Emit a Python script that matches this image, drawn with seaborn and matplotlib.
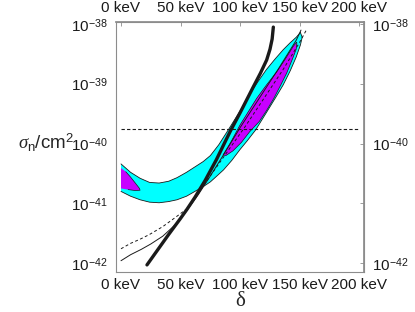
import numpy as np
import matplotlib
matplotlib.use("Agg")
import matplotlib.pyplot as plt
from matplotlib.ticker import NullLocator
import seaborn as sns

# delta in keV, cross sections stored as log10(sigma_n / cm^2)
cyan_upper_delta = [0, 8, 16, 24, 32, 40, 47, 55, 62, 69, 75, 82, 90, 100, 108, 115, 122, 129, 136, 142, 147, 150.5]
cyan_upper_log = [-40.34, -40.48, -40.58, -40.65, -40.66, -40.63, -40.57, -40.48, -40.39, -40.30, -40.20,
                  -40.02, -39.77, -39.45, -39.17, -38.96, -38.76, -38.59, -38.43, -38.31, -38.22, -38.14]
cyan_lower_delta = [0, 8, 16, 24, 32, 40, 47, 55, 62, 69, 75, 80, 86, 93, 99.8, 106, 113, 122, 130, 136,
                    142, 147, 150.5, 152, 150.5]
cyan_lower_log = [-40.80, -40.88, -40.94, -40.98, -40.99, -40.97, -40.94, -40.88, -40.80, -40.72, -40.64,
                  -40.55, -40.44, -40.28, -40.10, -39.95, -39.77, -39.48, -39.22, -39.02, -38.78, -38.55,
                  -38.35, -38.22, -38.14]

mag_left_delta = [0, 4, 8, 12, 15.5, 16, 12, 6, 0]
mag_left_log = [-40.41, -40.47, -40.56, -40.66, -40.75, -40.78, -40.785, -40.77, -40.75]

mag_right_delta = [85.6, 92, 99.8, 107, 113.9, 122, 130.6, 138, 144.6, 147.4, 147.5, 147, 143.5, 139, 134,
                   128, 122, 116, 108, 101, 94, 88, 85.6]
mag_right_log = [-40.19, -39.98, -39.69, -39.46, -39.24, -39.02, -38.80, -38.58, -38.37, -38.30, -38.32,
                 -38.42, -38.60, -38.82, -39.02, -39.25, -39.45, -39.63, -39.80, -39.98, -40.12, -40.20, -40.19]

thick_delta = [21.8, 30, 40, 50, 55, 62, 70.5, 80, 91.5, 100, 111, 117, 122.2, 125, 126.8, 127.8]
thick_log = [-42.03, -41.80, -41.52, -41.25, -41.11, -40.90, -40.62, -40.27, -39.80, -39.48, -39.05,
             -38.82, -38.60, -38.42, -38.25, -38.05]

thin_delta = [0, 8, 17, 25, 35, 46, 56, 65, 75, 85, 100, 116, 132, 147, 151]
thin_log = [-41.96, -41.86, -41.77, -41.68, -41.55, -41.35, -41.10, -40.85, -40.54, -40.22, -39.73,
            -39.24, -38.75, -38.27, -38.10]

dashed_delta = [0, 8, 16, 24, 35, 46, 56, 70, 88, 104, 120, 136, 150, 156]
dashed_log = [-41.76, -41.67, -41.60, -41.52, -41.39, -41.23, -41.08, -40.68, -40.17, -39.72, -39.24,
              -38.76, -38.30, -38.08]

limit_delta = [0, 200]
limit_log = [-39.76, -39.76]

x_ticks = [0, 50, 100, 150, 200]
x_labels = ["0 keV", "50 keV", "100 keV", "150 keV", "200 keV"]
y_exps = [-38, -39, -40, -41, -42]
right_exps = [-38, -40, -42]


def sig(vals):
    return np.power(10.0, np.array(vals))


sns.set_theme(style="white")
plt.rcParams["font.family"] = ["Liberation Sans", "DejaVu Sans"]
plt.rcParams["mathtext.fontset"] = "custom"
plt.rcParams["mathtext.rm"] = "Liberation Sans"
plt.rcParams["mathtext.it"] = "Liberation Serif:italic"

fig = plt.figure(figsize=(4.15, 3.12), dpi=100)
ax = fig.add_axes([0.2795, 0.128, 0.598, 0.801])
ax.set_yscale("log")

frame = "#8c8c8c"
cyan = "#00ffff"
magenta = "#c800ff"

# cyan region
ax.fill(cyan_upper_delta + cyan_lower_delta[::-1], sig(cyan_upper_log + cyan_lower_log[::-1]),
        color=cyan, lw=0, zorder=1)
ax.plot(cyan_upper_delta, sig(cyan_upper_log), color="k", lw=0.6, zorder=2)
ax.plot(cyan_lower_delta, sig(cyan_lower_log), color="k", lw=0.6, zorder=2)

# magenta regions
ax.fill(mag_left_delta, sig(mag_left_log), facecolor=magenta, edgecolor="none", zorder=3)
ax.plot(mag_left_delta[1:-1], sig(mag_left_log[1:-1]), color="k", lw=0.5, zorder=3)
ax.fill(mag_right_delta, sig(mag_right_log), facecolor=magenta, edgecolor="k", lw=0.5, zorder=3)

# curves
sns.lineplot(x=dashed_delta, y=sig(dashed_log), sort=False, estimator=None, color="k", lw=0.7,
             ax=ax, zorder=4).lines[-1].set_dashes([3, 2.5])
sns.lineplot(x=thin_delta, y=sig(thin_log), sort=False, estimator=None, color="k", lw=0.7,
             ax=ax, zorder=4)
sns.lineplot(x=thick_delta, y=sig(thick_log), sort=False, estimator=None, color="k", lw=2.4,
             ax=ax, zorder=5)
sns.lineplot(x=limit_delta, y=sig(limit_log), sort=False, estimator=None, color="k", lw=0.8,
             ax=ax, zorder=4).lines[-1].set_dashes([3, 2])

ax.set_xlim(-4.2, 204)
ax.set_ylim(10 ** -42.15, 10 ** -37.967)

for s in ax.spines.values():
    s.set_color(frame)
    s.set_linewidth(0.8)

tick_kw = dict(direction="in", length=3, width=0.6, color=frame, labelsize=11, labelcolor="k")
ax.set_xticks(x_ticks)
ax.set_xticklabels(x_labels)
ax.set_yticks(sig(y_exps))
ax.set_yticklabels([r"$10^{%d}$" % e for e in y_exps])
ax.yaxis.set_minor_locator(NullLocator())
ax.tick_params(axis="x", pad=4, **tick_kw)
ax.tick_params(axis="y", pad=6, **tick_kw)

top = ax.secondary_xaxis("top")
top.set_xticks(x_ticks)
top.set_xticklabels(x_labels)
top.tick_params(pad=5, **tick_kw)
top.spines["top"].set_color(frame)

right = ax.secondary_yaxis("right")
right.set_yticks(sig(y_exps))
right.set_yticklabels([r"$10^{%d}$" % e if e in right_exps else "" for e in y_exps])
right.yaxis.set_minor_locator(NullLocator())
right.tick_params(pad=6, **tick_kw)
right.spines["right"].set_color(frame)

ax.set_xlabel("δ", fontsize=15, family=["Liberation Serif", "DejaVu Serif"], labelpad=0)
ax.set_ylabel(r"$\sigma_{\mathrm{n}}/\mathrm{cm}^2$", fontsize=13.5, rotation=0, ha="right", va="center")
ax.yaxis.set_label_coords(-0.17, 0.516)

fig.savefig("out.png", dpi=100)
